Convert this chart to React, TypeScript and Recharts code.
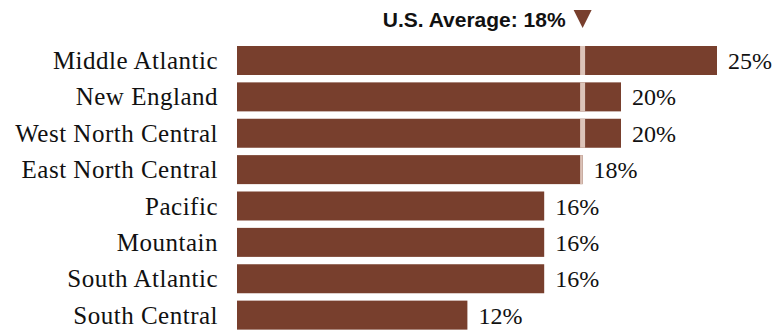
import React from 'react';
import { BarChart, Bar, XAxis, YAxis, LabelList, ReferenceLine } from 'recharts';

const regions = [
  'Middle Atlantic',
  'New England',
  'West North Central',
  'East North Central',
  'Pacific',
  'Mountain',
  'South Atlantic',
  'South Central',
];
const shares = [25, 20, 20, 18, 16, 16, 16, 12];
const usAverage = 18;
const headerText = 'U.S. Average: 18%';

const data = regions.map((name, i) => ({ name, value: shares[i] }));

const BROWN = '#783f2d';
const MARK = '#dcc3b8';
const SERIF = 'serif';

// bar with the light average marker cut into it
const MarkedBar = (props: any) => {
  const { x, y, width, height, payload } = props;
  const v = payload.value;
  const avgX = x + (width * usAverage) / v;
  const showMark = v >= usAverage;
  const left = avgX - 2.5;
  const right = Math.min(avgX + 2.5, x + width);
  return (
    <g>
      <rect x={x} y={y} width={width} height={height} fill={BROWN} />
      {showMark && <rect x={left} y={y} width={right - left} height={height} fill={MARK} />}
    </g>
  );
};

const AverageHeader = (props: any) => {
  const { viewBox } = props;
  const cx = viewBox.x;
  const top = viewBox.y;
  return (
    <g>
      <text
        x={cx - 17}
        y={top - 15}
        textAnchor="end"
        fill="#111"
        fontSize={21}
        fontWeight="bold"
        fontFamily="Liberation Sans, sans-serif"
      >
        {headerText}
      </text>
      <polygon
        points={`${cx - 9},${top - 32} ${cx + 9},${top - 32} ${cx},${top - 14}`}
        fill={BROWN}
      />
    </g>
  );
};

const App = () => (
  <div style={{ position: 'absolute', left: 0, top: 0 }}>
    <BarChart
      width={776}
      height={331}
      data={data}
      layout="vertical"
      margin={{ top: 42, right: 59, bottom: -2, left: 0 }}
    >
      <XAxis type="number" domain={[0, 25]} hide />
      <YAxis
        type="category"
        dataKey="name"
        width={237}
        axisLine={false}
        tickLine={false}
        tickSize={0}
        tickMargin={19}
        interval={0}
        tick={{ fill: '#111', fontSize: 25, fontFamily: SERIF, letterSpacing: 0.5 }}
      />
      <Bar dataKey="value" barSize={29} shape={<MarkedBar />} isAnimationActive={false}>
        <LabelList
          dataKey="value"
          position="right"
          offset={11}
          formatter={(v: any) => `${v}%`}
          fill="#111"
          fontSize={24}
          fontFamily={SERIF}
        />
      </Bar>
      <ReferenceLine x={usAverage} stroke="none" label={<AverageHeader />} />
    </BarChart>
  </div>
);

export default App;
